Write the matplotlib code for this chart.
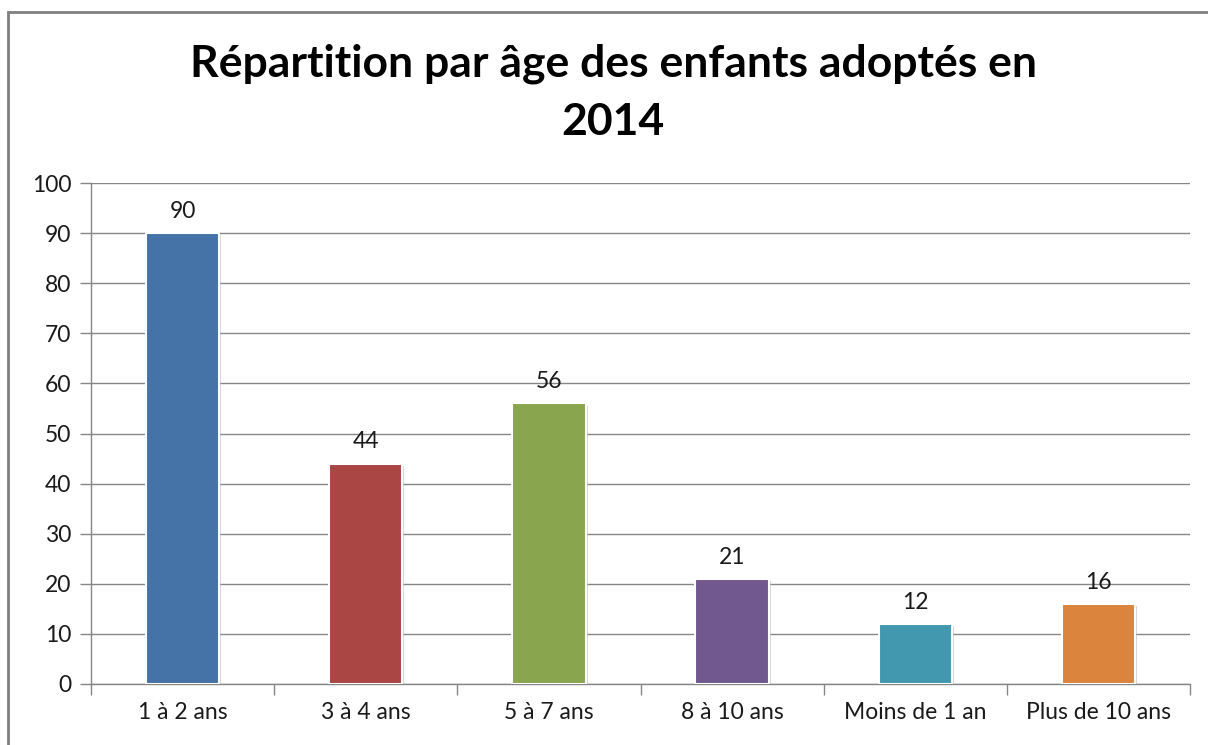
import matplotlib
matplotlib.use("Agg")
import matplotlib.pyplot as plt
from matplotlib.patches import Rectangle
import matplotlib.patheffects as pe

categories = ["1 à 2 ans", "3 à 4 ans", "5 à 7 ans", "8 à 10 ans", "Moins de 1 an", "Plus de 10 ans"]
values = [90, 44, 56, 21, 12, 16]
colors = ["#4572A7", "#AA4643", "#89A54E", "#71588F", "#4198AF", "#DB843D"]
title = "Répartition par âge des enfants adoptés en\n2014"

plt.rcParams['font.family'] = ['Lato', 'DejaVu Sans']

W, H = 1208, 745
fig = plt.figure(figsize=(W/100, H/100), dpi=100)
ax = fig.add_axes([91/W, 1-684/H, (1190-91)/W, (684-183)/H])

grid_c = "#868686"
fs = 16.5
x = list(range(len(categories)))
bars = ax.bar(x, values, width=0.40, color=colors, edgecolor="white", linewidth=1.5, zorder=3)
for b in bars:
    b.set_path_effects([pe.SimplePatchShadow(offset=(1.5, -1.5), shadow_rgbFace="#bbbbbb", alpha=0.6), pe.Normal()])

for xi, v in zip(x, values):
    ax.annotate(str(v), (xi, v), xytext=(0, 8), textcoords="offset points",
                ha="center", va="bottom", fontsize=fs, color="#1a1a1a")

ax.set_xlim(-0.5, len(categories)-0.5)
ax.set_ylim(0, 100)
ax.set_yticks(range(0, 101, 10))
ax.yaxis.grid(True, color=grid_c, linewidth=1.0, zorder=0)
ax.set_axisbelow(True)
ax.set_xticks([i - 0.5 for i in range(len(categories)+1)])
ax.set_xticklabels([])
ax.set_xticks(x, minor=True)
ax.set_xticklabels(categories, minor=True)
ax.tick_params(axis="x", which="major", direction="out", length=8, color=grid_c, width=1)
ax.tick_params(axis="x", which="minor", length=0, pad=13, labelsize=fs, labelcolor="#1a1a1a")
ax.tick_params(axis="y", direction="out", length=8, color=grid_c, width=1, labelsize=fs, labelcolor="#1a1a1a", pad=6)
for s in ["top", "right"]:
    ax.spines[s].set_visible(False)
for s in ["left", "bottom"]:
    ax.spines[s].set_color(grid_c)
    ax.spines[s].set_linewidth(1.0)

fig.text(613/W, 1-93/H, title, ha="center", va="center", fontsize=32, fontweight="bold",
         linespacing=1.55, color="black")

fig.patches.append(Rectangle((8/W, -0.05), 1.1, 1 - 12/H + 0.05, transform=fig.transFigure,
                             fill=False, edgecolor="#7f7f7f", linewidth=2))

fig.savefig("out.png", dpi=100)
